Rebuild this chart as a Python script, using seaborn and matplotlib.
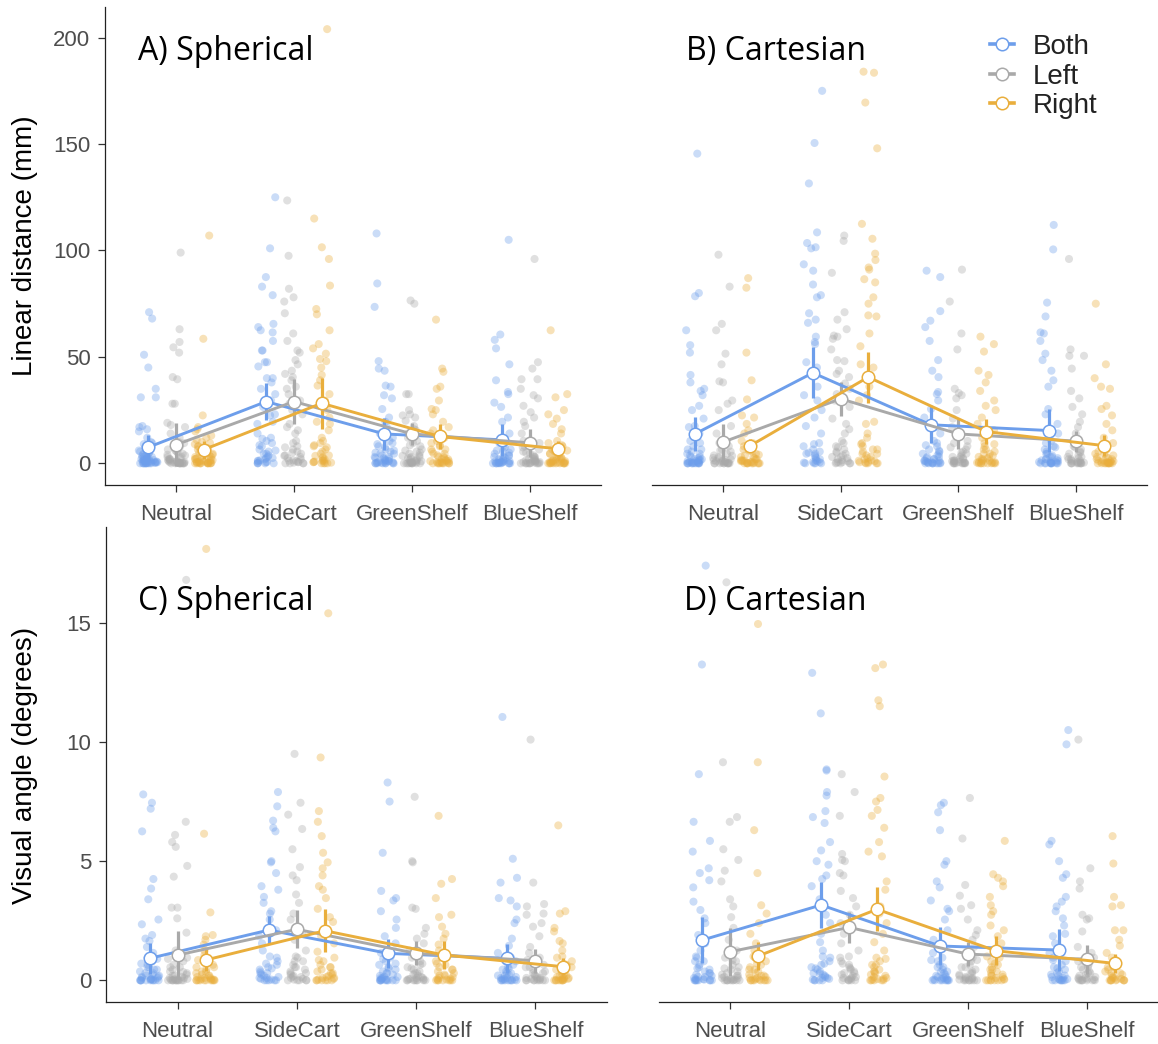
import numpy as np
import pandas as pd
import matplotlib
matplotlib.use("Agg")
import matplotlib.pyplot as plt
from matplotlib.lines import Line2D
import seaborn as sns

conditions = ["Neutral", "SideCart", "GreenShelf", "BlueShelf"]
groups = ["Both", "Left", "Right"]
colors = ["#6d9eeb", "#a9a9a9", "#e9ae3c"]

# dense cluster of low-value trials seen at the bottom of every group
floor_mm = [0, 0, 0, 0, 0.3, 0.6, 1, 1.4, 1.9, 2.4, 3, 3.7, 4.5, 5.5, 6.5, 8, 9.5]
floor_deg = [0, 0, 0, 0, 0.03, 0.06, 0.1, 0.14, 0.19, 0.24, 0.3, 0.37, 0.45, 0.55, 0.65, 0.8, 0.95]

# A) linear distance, spherical (mm) - one list per condition
a_both = [
    [71, 68, 51, 45, 35, 31, 31, 17.5, 17, 16, 15, 12, 10, 9, 8, 7, 6, 5, 4.5, 4, 3, 3, 2.5, 2, 2, 1.5, 1.2, 1, 1, 0.8, 0.5, 0.5, 0.3, 0.2, 0, 0, 0, 0, 0, 0],
    [125, 101, 87.5, 83, 79, 65.5, 64, 62.5, 61.5, 57.5, 53, 53, 47.5, 47.5, 45.5, 40, 40, 38, 35, 32.5, 29.5, 26.5, 23, 22.5, 19.5, 18.5, 14, 12, 11.5, 10.5, 8.5, 6, 4.5, 2.5, 1.2, 0.5],
    [108, 84.5, 73.5, 48, 44.5, 43.5, 36.5, 36, 32, 30.5, 25.5, 21.5, 19.5, 17, 14, 12, 10.5, 9, 7.5, 6, 5, 4.5, 3, 2.5, 2, 1.2, 1, 0.5, 0.5, 0.3, 0, 0, 0, 0],
    [105, 60.5, 58, 54, 46.5, 39, 33.5, 32.5, 28.5, 26.5, 21.5, 19.5, 14, 10.5, 7.5, 6, 5, 3.5, 3, 2, 1.5, 1, 0.8, 0.5, 0.3, 0.2, 0, 0, 0, 0, 0],
]
a_left = [
    [99, 63, 57, 54.5, 52, 40.5, 39.5, 28, 28, 19, 18, 17, 14, 12, 10, 8, 6, 5, 4, 3, 2, 2, 1.5, 1, 1, 0.5, 0.5, 0.3, 0.2, 0, 0, 0, 0, 0, 0],
    [123.5, 97.5, 82, 78, 76, 70.5, 61, 57.5, 53, 52, 48.5, 46.5, 43.5, 42, 40.5, 39, 36, 35, 32.5, 29.5, 28, 25, 23, 18.5, 17, 15.5, 14, 10.5, 7.5, 5, 3.5, 1.2, 0.5],
    [76.5, 75, 32.5, 32.5, 25, 23, 22.5, 21.5, 20, 17.5, 16, 15.5, 14, 12, 10.5, 8.5, 6, 5, 3.5, 3, 2.5, 1.5, 1, 0.5, 0.5, 0.3, 0, 0, 0, 0, 0],
    [96, 47.5, 44.5, 39.5, 39.5, 35, 32, 30.5, 27, 24, 21.5, 19.5, 17.5, 14, 10.5, 7.5, 5, 3, 2, 1.5, 1, 0.8, 0.5, 0.3, 0, 0, 0, 0, 0],
]
a_right = [
    [107, 58.5, 22.5, 17, 16, 15, 13, 12, 11, 10, 9, 8, 7, 6.5, 6, 5, 4.5, 4, 3.5, 3, 2, 2, 1.5, 1, 1, 0.5, 0.5, 0.3, 0.2, 0, 0, 0, 0, 0, 0],
    [204, 115, 101.5, 96, 83.5, 72.5, 70, 62.5, 56, 54, 51.5, 49, 48, 45, 41.5, 39, 36.5, 32.5, 29.5, 25, 21.5, 19.5, 18.5, 15.5, 12, 10.5, 8.5, 7.5, 3.5, 1.2, 0.8, 0.5],
    [67.5, 44.5, 43, 36, 35, 29.5, 25.5, 25, 23, 19.5, 17, 15.5, 14, 12, 10.5, 8.5, 6.5, 4.5, 3, 2, 1.2, 1, 0.5, 0.3, 0, 0, 0, 0],
    [62.5, 32.5, 31, 25, 23, 21, 18.5, 16, 14, 10.5, 8.5, 6, 4.5, 3, 2.5, 2, 1.2, 1, 0.5, 0.5, 0.3, 0.2, 0, 0, 0, 0, 0, 0],
]

# B) linear distance, cartesian (mm)
b_both = [
    [145.5, 80, 78.5, 62.5, 55.5, 52, 41.5, 38, 35, 34, 32, 27, 25, 21, 17.5, 17, 14, 10.5, 6.5, 4.5, 3, 2, 1.5, 1.2, 1, 0.5, 0.5, 0.3, 0, 0, 0, 0, 0, 0],
    [175, 150.5, 131.5, 108.5, 103.5, 101.5, 101, 93.5, 90.5, 84, 79, 78, 70.5, 67.5, 66, 59.5, 57, 56, 47.5, 45, 42.5, 36, 32, 29.5, 25, 21.5, 17.5, 14, 9, 5, 4.5, 0.5],
    [90.5, 87.5, 71.5, 67, 64, 57.5, 48.5, 43.5, 40.5, 33.5, 32.5, 29.5, 25.5, 21.5, 17, 14, 10.5, 8.5, 6, 4.5, 3, 2, 1.2, 1, 0.5, 0.3, 0, 0, 0, 0],
    [112, 100.5, 75.5, 69, 61.5, 61, 57.5, 51.5, 48.5, 43.5, 39, 36, 25.5, 23, 18.5, 14, 10.5, 7.5, 4.5, 3, 2, 1.5, 1, 0.5, 0.3, 0, 0, 0, 0, 0],
]
b_left = [
    [98, 83, 65.5, 62.5, 51.5, 46.5, 38.5, 38, 29.5, 28, 25, 17.5, 14, 9, 6, 3.5, 2.5, 1.5, 1.2, 1, 0.5, 0.3, 0, 0, 0, 0, 0],
    [107, 104.5, 89.5, 71, 67.5, 63, 60, 59.5, 58.5, 53.5, 48.5, 48, 43.5, 42, 40.5, 37.5, 35, 32.5, 29.5, 26.5, 21, 18.5, 16, 14, 10.5, 7.5, 5, 3, 0.5],
    [91, 76, 61, 53.5, 35, 33, 32, 30.5, 25, 21, 17, 14, 10.5, 7.5, 5, 3, 2, 1.2, 1, 0.5, 0.3, 0, 0, 0, 0],
    [96, 53.5, 50.5, 50.5, 44.5, 34, 30.5, 26.5, 23, 19.5, 17, 14, 10.5, 7.5, 5, 3, 2, 1.2, 0.5, 0.3, 0, 0, 0, 0],
]
b_right = [
    [87, 82.5, 52, 39, 30, 22.5, 21.5, 18.5, 15.5, 14, 10.5, 8.5, 6, 4, 3, 2, 1.5, 1.2, 1, 0.5, 0.3, 0, 0, 0, 0, 0],
    [184, 183.5, 169.5, 148, 112.5, 105.5, 98.5, 95.5, 92, 91, 86.5, 85, 78, 75, 69.5, 69, 61, 55, 46.5, 45, 39, 36, 32, 29.5, 19.5, 18.5, 14, 12, 9, 6.5, 4.5, 1.2, 0.5],
    [59.5, 56, 52.5, 43.5, 41.5, 38, 34, 29.5, 27, 25, 21.5, 18.5, 15.5, 12, 9, 6.5, 4.5, 3, 2, 1.2, 0.5, 0.3, 0, 0, 0, 0],
    [75, 46.5, 40, 36, 35, 27, 25.5, 22.5, 18.5, 15.5, 12, 9, 6.5, 4.5, 3, 2, 1.2, 1, 0.5, 0.3, 0, 0, 0, 0, 0],
]

# C) visual angle, spherical (degrees)
c_both = [
    [7.8, 7.45, 7.2, 6.25, 4.25, 3.85, 3.4, 2.55, 2.35, 1.9, 1.75, 1.65, 1.4, 1.15, 0.9, 0.7, 0.55, 0.45, 0.3, 0.2, 0.15, 0.1, 0.05, 0, 0, 0, 0, 0, 0],
    [7.9, 7.3, 6.7, 6.4, 6.25, 5, 4.95, 4.5, 3.95, 3.8, 3.5, 3.25, 2.9, 2.8, 2.55, 2.1, 1.85, 1.55, 1.25, 1, 0.7, 0.5, 0.3, 0.1, 0],
    [8.3, 7.5, 5.35, 3.75, 3.45, 3.35, 2.9, 2.55, 2.2, 1.85, 1.55, 1.15, 0.9, 0.7, 0.5, 0.3, 0.15, 0.1, 0.05, 0, 0, 0, 0, 0],
    [11.05, 5.1, 4.3, 4.1, 3.45, 3.35, 3.1, 2.55, 2.4, 1.75, 1.45, 1.15, 0.8, 0.5, 0.3, 0.2, 0.1, 0.05, 0, 0, 0, 0, 0],
]
c_left = [
    [16.8, 6.65, 6.1, 5.8, 5.6, 4.8, 4.35, 3.05, 3.05, 2.6, 2, 1.25, 0.9, 0.55, 0.35, 0.2, 0.1, 0.05, 0, 0, 0, 0, 0, 0, 0],
    [9.5, 7.45, 6.95, 6.35, 5.5, 4.75, 4.4, 4.2, 3.6, 3.25, 2.8, 2.55, 2.25, 1.95, 1.7, 1.25, 1, 0.8, 0.55, 0.3, 0.15, 0],
    [7.7, 5, 4.95, 3.05, 3, 2.2, 1.95, 1.75, 1.55, 1.25, 1, 0.7, 0.5, 0.3, 0.1, 0.05, 0, 0, 0, 0],
    [10.1, 4.1, 3.2, 3.1, 2.8, 2.75, 2.4, 2.25, 1.85, 1.4, 1.15, 0.85, 0.55, 0.3, 0.1, 0.05, 0, 0, 0, 0],
]
c_right = [
    [18.1, 6.15, 2.85, 1.9, 1.85, 1.7, 1.5, 1.25, 1.05, 0.85, 0.55, 0.35, 0.2, 0.1, 0.05, 0, 0, 0, 0, 0, 0],
    [15.4, 9.35, 7.1, 6.65, 6.05, 5.35, 4.95, 4.7, 4.4, 3.95, 3.8, 3.45, 3, 2.65, 2.45, 2.1, 1.85, 1.55, 1.2, 0.85, 0.55, 0.3, 0.1, 0, 0],
    [6.9, 4.25, 4.05, 3.45, 2.75, 2.65, 2.25, 1.95, 1.75, 1.5, 1.25, 1, 0.7, 0.45, 0.2, 0.05, 0, 0, 0],
    [6.5, 2.9, 2.8, 2.2, 2.05, 1.65, 1.55, 1.25, 1, 0.7, 0.45, 0.2, 0.1, 0.05, 0, 0, 0, 0],
]

# D) visual angle, cartesian (degrees)
d_both = [
    [17.4, 13.25, 8.65, 6.65, 5.85, 5.4, 4.7, 4.5, 4.2, 3.9, 3.3, 2.95, 2.6, 2.4, 1.9, 1.55, 1.25, 1, 0.8, 0.5, 0.3, 0.15, 0.05, 0, 0, 0, 0],
    [12.9, 11.2, 8.85, 8.8, 7.9, 7.75, 7.1, 6.85, 6.6, 5.8, 5.45, 5, 4.85, 4.4, 4.25, 3.95, 3.4, 3.1, 2.75, 2.4, 1.95, 1.6, 1.25, 1, 0.7, 0.5, 0.3, 0.1],
    [7.45, 7.35, 7.05, 6.3, 5, 4.85, 4.15, 3.9, 3.35, 3, 2.9, 2.55, 2.1, 1.7, 1.4, 1.15, 0.85, 0.55, 0.35, 0.15, 0.05, 0, 0, 0, 0],
    [10.5, 9.9, 5.85, 5.7, 5, 4.45, 4.3, 3.5, 3.3, 3.1, 2.9, 2.6, 2.3, 1.95, 1.85, 1.55, 1.15, 0.85, 0.5, 0.2, 0.05, 0, 0, 0],
]
d_left = [
    [16.7, 9.15, 6.85, 6.65, 5.5, 5.05, 4.6, 4.15, 3.4, 3.1, 2.65, 2.2, 1.7, 1.25, 0.85, 0.5, 0.2, 0.1, 0, 0, 0, 0, 0],
    [8.65, 7.9, 6.9, 5.3, 5.05, 5, 4.5, 4.4, 3.75, 3.45, 3.1, 2.75, 2.4, 1.95, 1.55, 1.25, 1, 0.7, 0.5, 0.3, 0.1, 0],
    [7.65, 5.95, 4, 3.55, 3.15, 3, 2.55, 2.1, 1.9, 1.7, 1.4, 1.15, 0.85, 0.55, 0.3, 0.1, 0.05, 0, 0, 0],
    [10.1, 4.7, 4.15, 3.85, 2.75, 2.6, 2.55, 2.05, 1.4, 1.15, 0.85, 0.55, 0.3, 0.1, 0.05, 0, 0, 0],
]
d_right = [
    [14.95, 9.15, 6.3, 4.5, 3.15, 2.8, 2.4, 1.95, 1.55, 1.25, 1, 0.7, 0.45, 0.2, 0.1, 0, 0, 0, 0],
    [13.25, 13.1, 11.75, 11.5, 8.55, 7.65, 7.5, 7.15, 6.9, 6.4, 5.8, 5.4, 5.2, 4.15, 3.8, 3.1, 2.8, 2.4, 1.95, 1.6, 1.25, 0.9, 0.65, 0.35, 0.05, 0],
    [5.85, 4.45, 4.3, 4.15, 3.95, 3.5, 3.15, 2.9, 2.75, 2.3, 2.1, 1.85, 1.55, 1.25, 1, 0.7, 0.45, 0.2, 0, 0, 0],
    [6.05, 4.9, 3.5, 3.15, 3.1, 2.1, 2.1, 1.7, 1.45, 1.15, 0.85, 0.55, 0.3, 0.1, 0, 0, 0, 0],
]

# group means and error bar half-widths (rows: Both, Left, Right)
a_mean = [[7.5, 29.0, 13.8, 11.0], [8.7, 29.0, 13.8, 9.6], [6.4, 28.2, 12.6, 6.8]]
a_err = [[5.9, 8.6, 7.5, 7.5], [10.0, 10.7, 5.0, 6.6], [4.3, 12.0, 6.0, 3.6]]
b_mean = [[13.8, 42.5, 18.1, 15.4], [9.9, 30.3, 13.8, 10.4], [8.3, 40.5, 14.9, 8.3]]
b_err = [[8.0, 12.0, 8.6, 10.0], [8.6, 8.0, 7.0, 5.0], [3.0, 12.0, 6.0, 5.0]]
c_mean = [[0.92, 2.11, 1.13, 0.92], [1.06, 2.14, 1.13, 0.82], [0.85, 2.08, 1.06, 0.57]]
c_err = [[0.66, 0.6, 0.6, 0.6], [1.0, 0.8, 0.5, 0.5], [0.45, 0.9, 0.6, 0.35]]
d_mean = [[1.69, 3.16, 1.44, 1.27], [1.2, 2.22, 1.1, 0.88], [1.02, 2.98, 1.24, 0.71]]
d_err = [[0.98, 0.95, 0.78, 0.9], [1.0, 0.66, 0.5, 0.6], [0.6, 0.92, 0.6, 0.4]]

offsets = [-0.235, 0.0, 0.235]

plt.rcParams["font.family"] = ["Liberation Sans", "DejaVu Sans"]
np.random.seed(3)

fig = plt.figure(figsize=(11.58, 10.44), dpi=100)
W, H = 1158, 1044


def px_axes(left, right, top, bottom):
    return fig.add_axes([left / W, 1 - bottom / H, (right - left) / W, (bottom - top) / H])


def draw_panel(ax, pts, floor, means, errs, ylim, yticks, show_y):
    rows = []
    for g, off, per_cond in zip(groups, offsets, pts):
        for ci, vals in enumerate(per_cond):
            for v in list(vals) + floor:
                rows.append((g, ci + off, v))
    df = pd.DataFrame(rows, columns=["group", "pos", "value"])
    sns.stripplot(data=df, x="pos", y="value", hue="group", hue_order=groups,
                  palette=colors, native_scale=True, jitter=0.35, size=5.8,
                  alpha=0.36, linewidth=0, legend=False, ax=ax, zorder=1)

    for g, off, c, m, e in zip(groups, offsets, colors, means, errs):
        mdf = pd.DataFrame({"pos": np.arange(4) + off, "mean": m, "err": e})
        ax.errorbar(mdf["pos"], mdf["mean"], yerr=mdf["err"], fmt="none",
                    ecolor=c, elinewidth=2.3, capsize=0, zorder=3)
        sns.lineplot(data=mdf, x="pos", y="mean", color=c, marker="o",
                     markersize=9, markerfacecolor="white", markeredgecolor=c,
                     markeredgewidth=1.1, linewidth=2.1, estimator=None,
                     ax=ax, zorder=4)

    ax.set_xlim(-0.6, 3.6)
    ax.set_ylim(*ylim)
    ax.set_xticks(range(4), conditions)
    ax.set_xlabel("")
    ax.set_ylabel("")
    for s in ["top", "right"]:
        ax.spines[s].set_visible(False)
    ax.spines["bottom"].set_linewidth(0.9)
    ax.spines["bottom"].set_color("#222222")
    ax.tick_params(axis="both", labelsize=16, colors="#333333",
                   labelcolor="#4d4d4d", length=5, width=0.9)
    ax.tick_params(axis="x", pad=9)
    ax.tick_params(axis="y", pad=5.5)
    if show_y:
        ax.set_yticks(yticks)
        ax.spines["left"].set_linewidth(0.9)
        ax.spines["left"].set_color("#222222")
    else:
        ax.spines["left"].set_visible(False)
        ax.set_yticks([])
    ax.set_facecolor("none")


ax_a = px_axes(105, 601, 7, 485)
ax_b = px_axes(652, 1147, 7, 485)
ax_c = px_axes(106, 607, 527, 1002)
ax_d = px_axes(659, 1158, 527, 1002)

top_lim = (-10.2, 214.4)
bot_lim = (-0.91, 19.02)
draw_panel(ax_a, [a_both, a_left, a_right], floor_mm, a_mean, a_err, top_lim, [0, 50, 100, 150, 200], True)
draw_panel(ax_b, [b_both, b_left, b_right], floor_mm, b_mean, b_err, top_lim, [0, 50, 100, 150, 200], False)
draw_panel(ax_c, [c_both, c_left, c_right], floor_deg, c_mean, c_err, bot_lim, [0, 5, 10, 15], True)
draw_panel(ax_d, [d_both, d_left, d_right], floor_deg, d_mean, d_err, bot_lim, [0, 5, 10, 15], False)

title_kw = dict(fontsize=23, family=["Open Sans", "DejaVu Sans"], color="black", va="baseline", ha="left")
fig.text(137.5 / W, 1 - 60 / H, "A) Spherical", **title_kw)
fig.text(686 / W, 1 - 60 / H, "B) Cartesian", **title_kw)
fig.text(138.5 / W, 1 - 610 / H, "C) Spherical", **title_kw)
fig.text(684 / W, 1 - 610 / H, "D) Cartesian", **title_kw)

fig.text(25 / W, 1 - 246 / H, "Linear distance (mm)", rotation=90, fontsize=20,
         ha="center", va="center")
fig.text(25 / W, 1 - 765 / H, "Visual angle (degrees)", rotation=90, fontsize=20,
         ha="center", va="center")

handles = [Line2D([0], [0], color=c, lw=2.6, marker="o", markersize=9,
                  markerfacecolor="white", markeredgecolor=c, markeredgewidth=1.1)
           for c in colors]
fig.legend(handles, groups, loc="upper left", bbox_to_anchor=(990 / W, 1 - 34 / H),
           frameon=False, fontsize=20, handlelength=0.86, handletextpad=0.68,
           labelspacing=0.13, borderpad=0, borderaxespad=0, labelcolor="#222222")

fig.savefig("out.png", dpi=100)
